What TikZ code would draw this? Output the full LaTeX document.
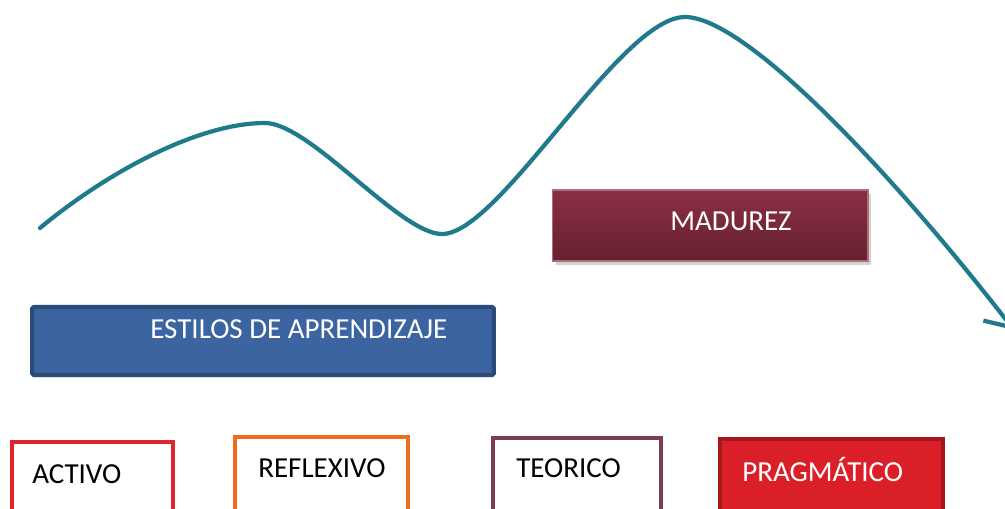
\documentclass[tikz,border=0pt]{standalone}
\usepackage{fontspec}
\setmainfont{Carlito}
\usetikzlibrary{arrows.meta,shadows}
\definecolor{curveteal}{HTML}{1F7A8C}
\definecolor{estilosfill}{HTML}{3B64A0}
\definecolor{estilosdraw}{HTML}{2A4A79}
\definecolor{madureztop}{HTML}{8B2F43}
\definecolor{madurezbot}{HTML}{65212F}
\definecolor{activored}{HTML}{E0262C}
\definecolor{reflexorange}{HTML}{EE6B22}
\definecolor{teoricoplum}{HTML}{7D3E4F}
\definecolor{pragfill}{HTML}{DB1F28}
\definecolor{pragdraw}{HTML}{A6161D}
\def\boxh{2.36cm}

\begin{document}
\begin{tikzpicture}[x=0.02cm,y=-0.02cm,
    lbl/.style={anchor=base west,inner sep=0pt,font=\fontsize{16.5}{20}\selectfont},
    stylebox/.style={draw=#1,line width=2.3pt,minimum height=\boxh,inner sep=0pt}]
\useasboundingbox (0,0) rectangle (1005,508);
\clip (0,0) rectangle (1005,508);

% Curve
\draw[curveteal,line width=2.4pt,line cap=round,-{Straight Barb[length=13pt,width=21pt]}]
    (40,228) .. controls (110,170) and (200,123) .. (265,123)
    .. controls (310,123) and (400,234) .. (442,234)
    .. controls (500,234) and (620,17) .. (685,17)
    .. controls (745,17) and (890,170) .. (1014,330);

% Upper boxes
\node[draw=madureztop!70!white,line width=0.6pt,top color=madureztop,bottom color=madurezbot,
    drop shadow={shadow xshift=2pt,shadow yshift=-2pt,opacity=0.35},
    minimum width=6.32cm,minimum height=1.42cm] (madurez) at (710,225.5) {};
\node[lbl,white] at (670,230) {MADUREZ};
\node[draw=estilosdraw,fill=estilosfill,line width=2.3pt,rounded corners=1pt,
    minimum width=9.24cm,minimum height=1.36cm] (estilos) at (263,341) {};
\node[lbl,white] at (150,338) {ESTILOS DE APRENDIZAJE};

% Lower boxes
\node[stylebox=activored,minimum width=3.22cm] (activo) at (92.5,501) {};
\node[lbl] at (32,483) {ACTIVO};
\node[stylebox=reflexorange,minimum width=3.46cm] (reflexivo) at (321.5,496) {};
\node[lbl] at (258,477) {REFLEXIVO};
\node[stylebox=teoricoplum,line width=2pt,minimum width=3.36cm] (teorico) at (577,497) {};
\node[lbl] at (516,477) {TEORICO};
\node[stylebox=pragdraw,fill=pragfill,minimum width=4.46cm] (pragmatico) at (831.5,498) {};
\node[lbl,white] at (742,481) {PRAGMÁTICO};

\end{tikzpicture}
\end{document}
